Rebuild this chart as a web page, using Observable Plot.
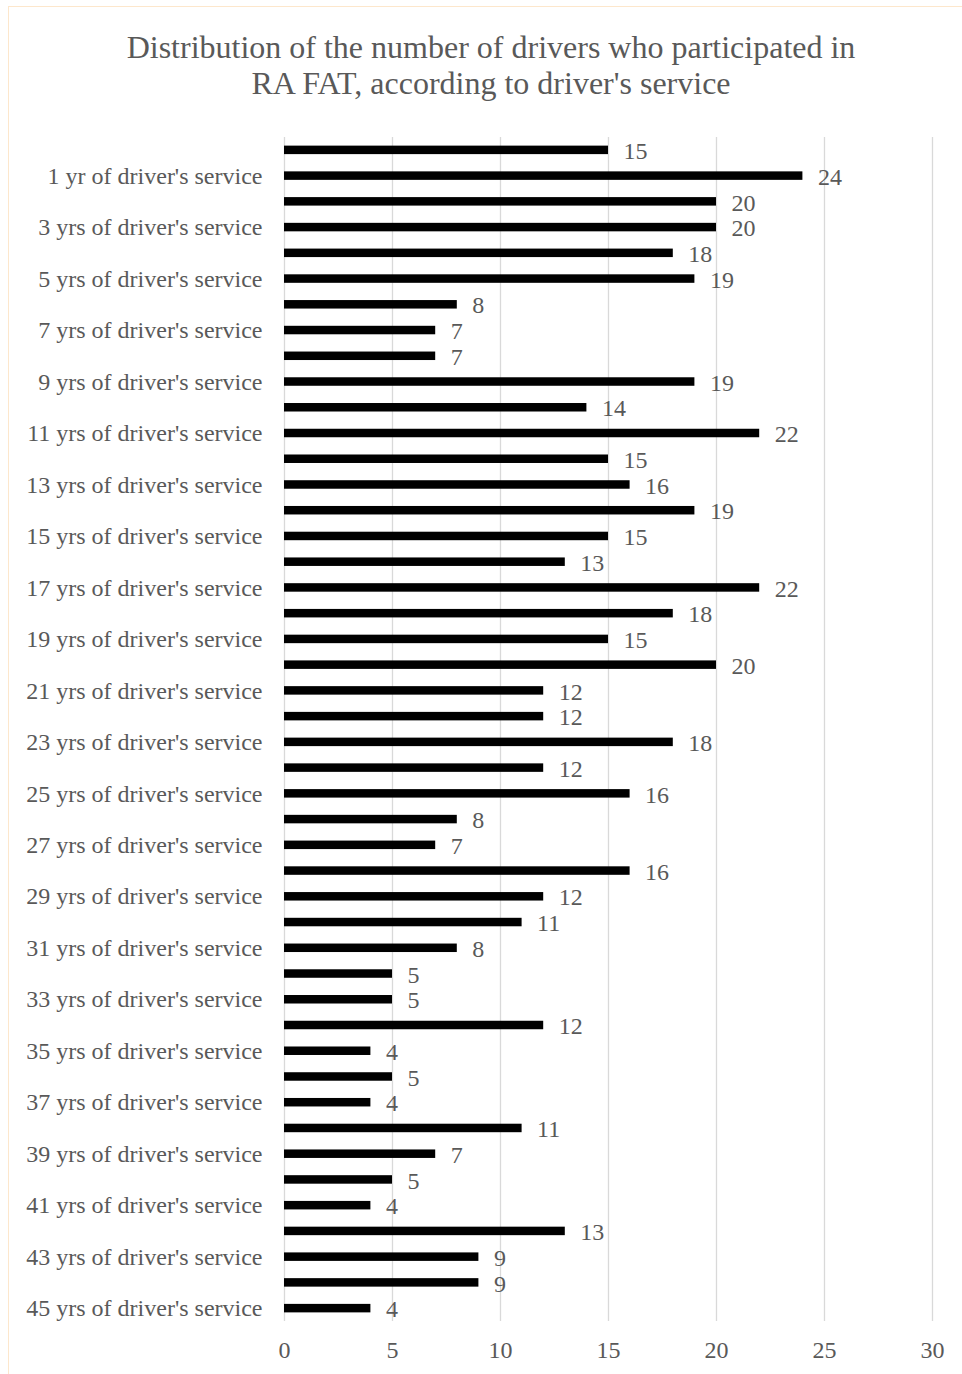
<!DOCTYPE html>
<html>
<head>
<meta charset="utf-8">
<script src="https://cdn.jsdelivr.net/npm/d3@7"></script>
<script src="https://cdn.jsdelivr.net/npm/@observablehq/plot@0.6"></script>
<style>
  html, body { margin: 0; padding: 0; background: #fff; }
  #wrap { position: relative; width: 962px; height: 1374px; overflow: hidden; }
  #frame { position: absolute; left: 8px; top: 6px; width: 1000px; height: 1420px;
           border: 1.5px solid #fde7cc; box-sizing: border-box; pointer-events: none; }
  #title { position: absolute; left: 91px; width: 800px; top: 29px; text-align: center;
           font-family: "Liberation Serif", "Times New Roman", serif; font-size: 32px;
           line-height: 36px; color: #595959; }
  #chart { position: absolute; left: 0; top: 0; }
</style>
</head>
<body>
<div id="wrap">
  <div id="chart"></div>
  <div id="frame"></div>
  <div id="title">Distribution of the number of drivers who participated in<br>RA FAT, according to driver's service</div>
</div>
<script>
const categories = [
  "less than 1 yr of driver's service",
  "1 yr of driver's service",
  "2 yrs of driver's service",
  "3 yrs of driver's service",
  "4 yrs of driver's service",
  "5 yrs of driver's service",
  "6 yrs of driver's service",
  "7 yrs of driver's service",
  "8 yrs of driver's service",
  "9 yrs of driver's service",
  "10 yrs of driver's service",
  "11 yrs of driver's service",
  "12 yrs of driver's service",
  "13 yrs of driver's service",
  "14 yrs of driver's service",
  "15 yrs of driver's service",
  "16 yrs of driver's service",
  "17 yrs of driver's service",
  "18 yrs of driver's service",
  "19 yrs of driver's service",
  "20 yrs of driver's service",
  "21 yrs of driver's service",
  "22 yrs of driver's service",
  "23 yrs of driver's service",
  "24 yrs of driver's service",
  "25 yrs of driver's service",
  "26 yrs of driver's service",
  "27 yrs of driver's service",
  "28 yrs of driver's service",
  "29 yrs of driver's service",
  "30 yrs of driver's service",
  "31 yrs of driver's service",
  "32 yrs of driver's service",
  "33 yrs of driver's service",
  "34 yrs of driver's service",
  "35 yrs of driver's service",
  "36 yrs of driver's service",
  "37 yrs of driver's service",
  "38 yrs of driver's service",
  "39 yrs of driver's service",
  "40 yrs of driver's service",
  "41 yrs of driver's service",
  "42 yrs of driver's service",
  "43 yrs of driver's service",
  "44 yrs of driver's service",
  "45 yrs of driver's service"
];
const values = [15, 24, 20, 20, 18, 19, 8, 7, 7, 19,
                14, 22, 15, 16, 19, 15, 13, 22, 18, 15,
                20, 12, 12, 18, 12, 16, 8, 7, 16, 12,
                11, 8, 5, 5, 12, 4, 5, 4, 11, 7,
                5, 4, 13, 9, 9, 4];
const shownLabels = [
  "1 yr of driver's service", "3 yrs of driver's service", "5 yrs of driver's service",
  "7 yrs of driver's service", "9 yrs of driver's service", "11 yrs of driver's service",
  "13 yrs of driver's service", "15 yrs of driver's service", "17 yrs of driver's service",
  "19 yrs of driver's service", "21 yrs of driver's service", "23 yrs of driver's service",
  "25 yrs of driver's service", "27 yrs of driver's service", "29 yrs of driver's service",
  "31 yrs of driver's service", "33 yrs of driver's service", "35 yrs of driver's service",
  "37 yrs of driver's service", "39 yrs of driver's service", "41 yrs of driver's service",
  "43 yrs of driver's service", "45 yrs of driver's service"
];
const xTicks = [0, 5, 10, 15, 20, 25, 30];

const data = categories.map((c, i) => ({category: c, value: values[i]}));

const chart = Plot.plot({
  width: 962,
  height: 1374,
  marginLeft: 284,
  marginRight: 30,
  marginTop: 137,
  marginBottom: 53,
  style: {fontFamily: "'Liberation Serif', 'Times New Roman', serif", fontSize: "24px", color: "#595959", background: "transparent"},
  x: {domain: [0, 30], label: null},
  y: {domain: categories, paddingInner: 0.67, paddingOuter: 0.335, label: null},
  marks: [
    Plot.ruleX(xTicks, {stroke: "#d9d9d9", strokeWidth: 1.3}),
    Plot.barX(data, {x: "value", y: "category", fill: "#000000"}),
    Plot.text(data, {x: "value", y: "category", text: d => String(d.value), textAnchor: "start",
                     dx: 15, dy: 1, fill: "#595959", fontSize: 24}),
    Plot.axisY({ticks: shownLabels, tickSize: 0, tickPadding: 22, label: null, fontSize: 24}),
    Plot.axisX({ticks: xTicks, tickSize: 0, tickPadding: 19, label: null, fontSize: 24})
  ]
});
document.getElementById("chart").appendChild(chart);
</script>
</body>
</html>
